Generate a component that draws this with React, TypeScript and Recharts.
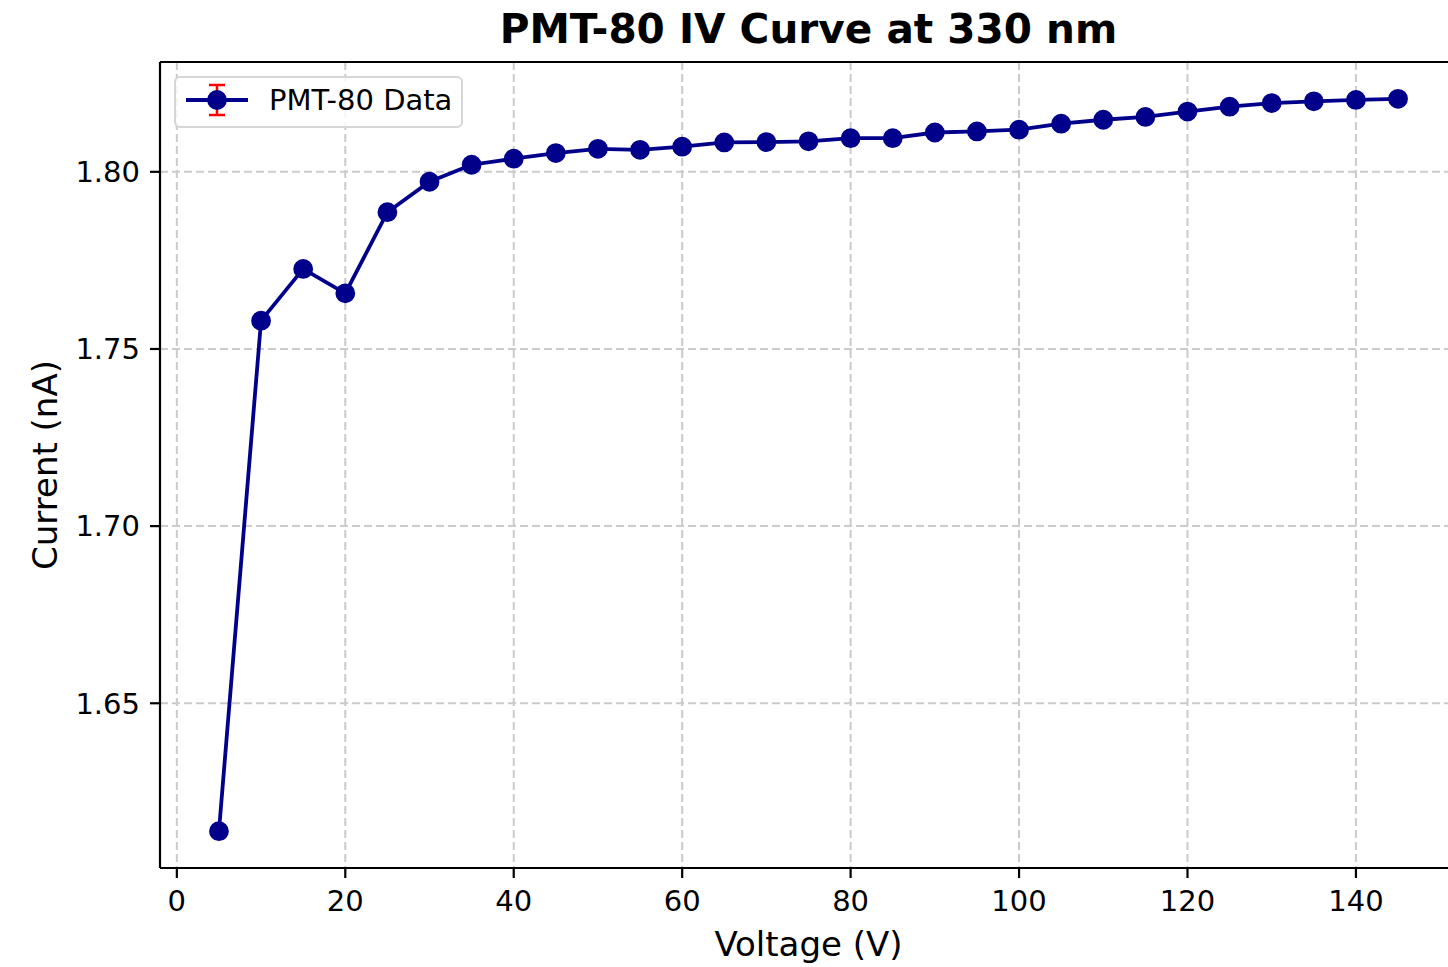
import { LineChart, Line, XAxis, YAxis, CartesianGrid, ReferenceLine, Label } from 'recharts';

const voltages = [5, 10, 15, 20, 25, 30, 35, 40, 45, 50, 55, 60, 65, 70, 75, 80, 85, 90, 95, 100, 105, 110, 115, 120, 125, 130, 135, 140, 145];
const currents = [
  1.6139, 1.758, 1.7726, 1.7657, 1.7886, 1.7972, 1.802, 1.8037, 1.8053, 1.8065,
  1.8062, 1.8071, 1.8083, 1.8084, 1.8086, 1.8095, 1.8095, 1.8111, 1.8114, 1.8119,
  1.8136, 1.8147, 1.8155, 1.817, 1.8184, 1.8194, 1.8199, 1.8203, 1.8206,
];
const xTicks = [0, 20, 40, 60, 80, 100, 120, 140];
const yTicks = [1.65, 1.7, 1.75, 1.8];

const X_DOMAIN: [number, number] = [-2, 152];
const Y_DOMAIN: [number, number] = [1.6035, 1.831];

const FONT = '"DejaVu Sans", sans-serif';
const NAVY = '#00008B';
const GRID = '#cbcbcb';

export default function App() {
  const chartData = voltages.map((v, i) => ({ voltage: v, current: currents[i] }));

  return (
    <div
      style={{
        position: 'absolute',
        left: 0,
        top: 0,
        width: 1448,
        height: 967,
        overflow: 'hidden',
        background: '#fff',
        fontFamily: FONT,
      }}
    >
      {/* Title */}
      <div
        style={{
          position: 'absolute',
          left: 160,
          width: 1297,
          top: 5,
          textAlign: 'center',
          fontSize: 40.6,
          fontWeight: 'bold',
          color: '#000',
        }}
      >
        PMT-80 IV Curve at 330 nm
      </div>

      <LineChart
        width={1460}
        height={967}
        data={chartData}
        margin={{ top: 62, right: 3, left: 0, bottom: 0 }}
      >
        <CartesianGrid
          stroke={GRID}
          strokeWidth={2}
          strokeDasharray="8 4"
          horizontalValues={yTicks}
          verticalValues={xTicks}
        />

        <XAxis
          type="number"
          dataKey="voltage"
          domain={X_DOMAIN}
          ticks={xTicks}
          allowDataOverflow
          height={99}
          axisLine={{ stroke: '#000', strokeWidth: 2.2 }}
          tickLine={{ stroke: '#000', strokeWidth: 2.2 }}
          tickSize={10}
          tickMargin={12}
          tick={{ fill: '#000', fontSize: 29, fontFamily: FONT }}
        >
          <Label
            content={(props: any) => {
              const vb = props.viewBox;
              const cx = vb.x + vb.width / 2;
              return (
                <text x={cx} y={vb.y + 76} textAnchor="middle" dominantBaseline="central" fontSize={34} fontFamily={FONT} fill="#000">
                  Voltage (V)
                </text>
              );
            }}
          />
        </XAxis>

        <YAxis
          type="number"
          dataKey="current"
          domain={Y_DOMAIN}
          ticks={yTicks}
          allowDataOverflow
          width={160}
          axisLine={{ stroke: '#000', strokeWidth: 2.2 }}
          tickLine={{ stroke: '#000', strokeWidth: 2.2 }}
          tickSize={10}
          tickMargin={10}
          tickFormatter={(v: number) => v.toFixed(2)}
          tick={{ fill: '#000', fontSize: 29, fontFamily: FONT }}
        >
          <Label
            content={(props: any) => {
              const vb = props.viewBox;
              const cx = 45;
              const cy = vb.y + vb.height / 2;
              return (
                <text
                  x={cx}
                  y={cy}
                  transform={`rotate(-90, ${cx}, ${cy})`}
                  textAnchor="middle"
                  dominantBaseline="central"
                  fontSize={34}
                  fontFamily={FONT}
                  fill="#000"
                >
                  Current (nA)
                </text>
              );
            }}
          />
        </YAxis>

        {/* top spine */}
        <ReferenceLine y={Y_DOMAIN[1]} stroke="#000" strokeWidth={2.2} />

        <Line
          type="linear"
          dataKey="current"
          stroke={NAVY}
          strokeWidth={3.8}
          dot={{ r: 8.5, fill: NAVY, stroke: NAVY, strokeWidth: 2.8 }}
          activeDot={false}
          isAnimationActive={false}
        />
      </LineChart>

      {/* Legend */}
      <div
        style={{
          position: 'absolute',
          left: 174,
          top: 76,
          width: 285,
          height: 48,
          border: '2px solid #d6d6d6',
          borderRadius: 6,
          background: 'rgba(255,255,255,0.8)',
        }}
      >
        <svg width={285} height={48} style={{ position: 'absolute', left: 0, top: 0 }}>
          <line x1={10} y1={22} x2={72} y2={22} stroke={NAVY} strokeWidth={3.8} />
          <line x1={41} y1={7} x2={41} y2={37} stroke="#ff0000" strokeWidth={2.5} />
          <line x1={33} y1={7} x2={49} y2={7} stroke="#ff0000" strokeWidth={2.5} />
          <line x1={33} y1={37} x2={49} y2={37} stroke="#ff0000" strokeWidth={2.5} />
          <circle cx={41} cy={22} r={8.5} fill={NAVY} stroke={NAVY} strokeWidth={2.8} />
          <text x={93} y={22} dominantBaseline="central" fontSize={29} fontFamily={FONT} fill="#000">
            PMT-80 Data
          </text>
        </svg>
      </div>
    </div>
  );
}
